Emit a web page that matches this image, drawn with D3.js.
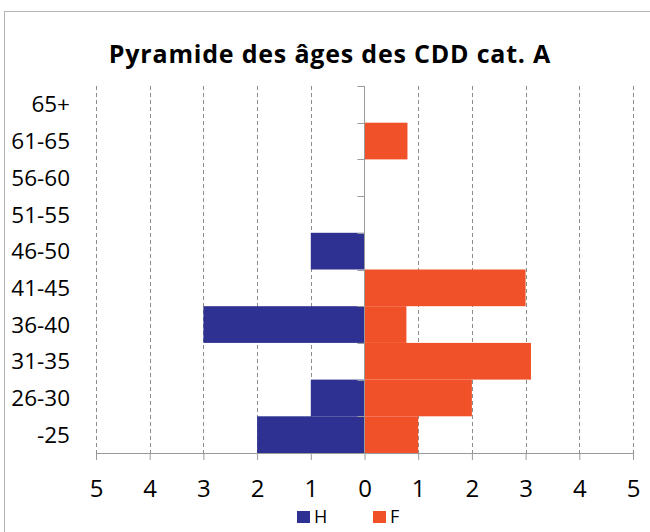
<!DOCTYPE html>
<html lang="fr">
<head>
  <meta charset="UTF-8">
  <title>Pyramide des âges des CDD cat. A</title>
  <script src="https://d3js.org/d3.v7.min.js"></script>
  <style>
    body { margin: 0; background: #fff; font-family: "Open Sans", Arial, sans-serif; }
    svg { display: block; }
  </style>
</head>
<body>
  <svg id="chart" width="650" height="532"></svg>
  <script>
    // Data (top to bottom as shown)
    const ageGroups = ["65+", "61-65", "56-60", "51-55", "46-50", "41-45", "36-40", "31-35", "26-30", "-25"];
    const hommes    = [0, 0, 0, 0, 1, 0, 3, 0, 1, 2];
    const femmes    = [0, 0.8, 0, 0, 0, 3, 0.78, 3.1, 2, 1];
    const xTicks    = [-5, -4, -3, -2, -1, 0, 1, 2, 3, 4, 5];
    const seriesNames = ["H", "F"];
    const colors = { H: "#2E3192", F: "#F15129" };

    const svg = d3.select("#chart");
    const margin = { top: 86, right: 17, bottom: 79, left: 96 };
    const width = 650 - margin.left - margin.right;
    const height = 532 - margin.top - margin.bottom;

    // chart frame (right/bottom edges fall outside the picture)
    svg.append("rect")
       .attr("x", 4.5).attr("y", 11.5)
       .attr("width", 700).attr("height", 600)
       .attr("fill", "none").attr("stroke", "#b3b3b3");

    svg.append("text")
       .attr("x", 330).attr("y", 63)
       .attr("text-anchor", "middle")
       .attr("font-size", 25).attr("font-weight", "bold")
       .attr("letter-spacing", "0.8px")
       .attr("fill", "#000")
       .text("Pyramide des âges des CDD cat. A");

    const g = svg.append("g").attr("transform", `translate(${margin.left},${margin.top})`);

    const x = d3.scaleLinear().domain([-5, 5]).range([0, width]);
    const y = d3.scaleBand().domain(ageGroups).range([0, height]).padding(0);

    // dashed gridlines
    g.selectAll(".grid")
     .data(xTicks.filter(d => d !== 0))
     .enter().append("line")
     .attr("x1", d => Math.round(x(d)) + 0.5).attr("x2", d => Math.round(x(d)) + 0.5)
     .attr("y1", 0).attr("y2", height)
     .attr("stroke", "#8c8c8c").attr("stroke-dasharray", "4,3");

    // bars
    g.selectAll(".barH")
     .data(ageGroups.map((a, i) => ({ a, v: hommes[i] })).filter(d => d.v > 0))
     .enter().append("rect")
     .attr("x", d => x(-d.v)).attr("width", d => x(0) - x(-d.v))
     .attr("y", d => y(d.a)).attr("height", y.bandwidth())
     .attr("fill", colors.H);

    g.selectAll(".barF")
     .data(ageGroups.map((a, i) => ({ a, v: femmes[i] })).filter(d => d.v > 0))
     .enter().append("rect")
     .attr("x", x(0)).attr("width", d => x(d.v) - x(0))
     .attr("y", d => y(d.a)).attr("height", y.bandwidth())
     .attr("fill", colors.F);

    // x axis
    const xAxis = g.append("g")
     .attr("transform", `translate(0,${height})`)
     .call(d3.axisBottom(x).tickValues(xTicks).tickFormat(d => Math.abs(d)).tickSizeInner(7).tickSizeOuter(0).tickPadding(0));
    xAxis.select(".domain").attr("stroke", "#9a9a9a");
    xAxis.selectAll(".tick line").attr("stroke", "#9a9a9a");
    xAxis.selectAll("text")
         .attr("y", 497 - margin.top - height).attr("dy", null)
         .attr("font-size", 24).attr("fill", "#000")
         .attr("font-family", "'Open Sans', Arial, sans-serif");

    // y axis at zero with ticks at band boundaries
    const yAxis = g.append("g").attr("transform", `translate(${x(0)},0)`);
    yAxis.append("line")
         .attr("y1", 0).attr("y2", height)
         .attr("stroke", "#9a9a9a");
    yAxis.selectAll(".ytick")
         .data(d3.range(ageGroups.length))
         .enter().append("line")
         .attr("x1", -7).attr("x2", 0)
         .attr("y1", i => Math.round(y(ageGroups[i])) + 0.5)
         .attr("y2", i => Math.round(y(ageGroups[i])) + 0.5)
         .attr("stroke", "#9a9a9a");

    // category labels on the left
    g.selectAll(".ylabel")
     .data(ageGroups)
     .enter().append("text")
     .attr("x", 70 - margin.left)
     .attr("y", d => y(d) + y.bandwidth() / 2)
     .attr("dy", "0.36em")
     .attr("text-anchor", "end")
     .attr("font-size", 22.5).attr("fill", "#000")
     .text(d => d);

    // legend
    const legend = svg.append("g").attr("transform", "translate(297,511)");
    const lg = legend.selectAll("g").data(seriesNames).enter().append("g")
      .attr("transform", (d, i) => `translate(${i * 76},0)`);
    lg.append("rect").attr("width", 13).attr("height", 12).attr("fill", d => colors[d]);
    lg.append("text").attr("x", 17).attr("y", 12)
      .attr("font-size", 18).attr("fill", "#000").text(d => d);
  </script>
</body>
</html>
